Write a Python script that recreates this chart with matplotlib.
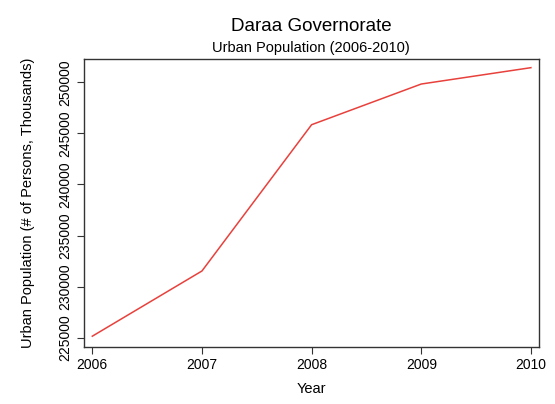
import matplotlib
matplotlib.use("Agg")
import matplotlib.pyplot as plt

plt.rcParams['font.family'] = ['Liberation Sans', 'DejaVu Sans']

years = [2006, 2007, 2008, 2009, 2010]
urban_pop = [225150, 231530, 245840, 249820, 251420]
y_ticks = [225000, 230000, 235000, 240000, 245000, 250000]

fig = plt.figure(figsize=(5.55, 4.04), dpi=100)
ax = fig.add_axes([0.1505, 0.141, 0.8205, 0.713])

ax.plot(years, urban_pop, color='#e8413c', linewidth=1.1)

ax.set_xlim(2005.92, 2010.073)
ax.set_ylim(224090, 252270)
ax.set_xticks(years)
ax.set_yticks(y_ticks)
ax.set_yticklabels([str(v) for v in y_ticks], rotation=90, va='center')

ax.tick_params(axis='both', direction='out', length=5, width=0.8,
               color='#333333', labelsize=10, pad=3)
for s in ax.spines.values():
    s.set_color('#333333')
    s.set_linewidth(1.0)

ax.set_xlabel("Year", fontsize=10.5, labelpad=7)
ax.set_ylabel("Urban Population (# of Persons, Thousands)", fontsize=10.5, labelpad=17)

fig.text(0.561, 0.935, "Daraa Governorate", ha='center', va='center', fontsize=13.5)
fig.text(0.561, 0.88, "Urban Population (2006-2010)", ha='center', va='center', fontsize=10.5)

fig.savefig("out.png", dpi=100)
